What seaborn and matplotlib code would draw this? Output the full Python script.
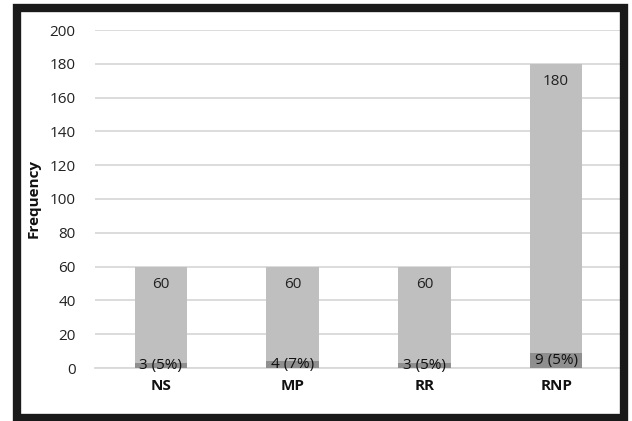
import matplotlib
matplotlib.use("Agg")
import matplotlib.pyplot as plt
import seaborn as sns
import pandas as pd
from matplotlib.patches import Rectangle

categories = ["NS", "MP", "RR", "RNP"]
totals = [60, 60, 60, 180]
subset = [3, 4, 3, 9]
subset_labels = ["3 (5%)", "4 (7%)", "3 (5%)", "9 (5%)"]
y_ticks = [0, 20, 40, 60, 80, 100, 120, 140, 160, 180, 200]

sns.set_theme(style="white")
plt.rcParams["font.family"] = ["Open Sans", "DejaVu Sans"]

df = pd.DataFrame({"group": categories, "total": totals, "subset": subset})

fig = plt.figure(figsize=(6.32, 4.21), dpi=100)
ax = fig.add_axes([95 / 632, 1 - 368 / 421, (622 - 95) / 632, (368 - 30) / 421])

sns.barplot(data=df, x="group", y="total", color="#bfbfbf", width=0.4,
            saturation=1, linewidth=0, edgecolor="none", ax=ax, zorder=2)
sns.barplot(data=df, x="group", y="subset", color="#8f8f8f", width=0.4,
            saturation=1, linewidth=0, edgecolor="none", ax=ax, zorder=3)

ax.set_ylim(0, 200)
ax.set_yticks(y_ticks)
ax.set_yticklabels([str(t) for t in y_ticks], fontsize=11, color="#222222")
ax.set_xlabel("")
ax.set_ylabel("Frequency", fontsize=11, fontweight="bold", color="#111111")
ax.yaxis.set_label_coords(-(95 - 41) / 527, 0.5)
ax.tick_params(axis="y", length=0, pad=14)
ax.tick_params(axis="x", length=0, pad=8)
for lbl in ax.get_xticklabels():
    lbl.set_fontweight("bold")
    lbl.set_fontsize(11)
    lbl.set_color("#111111")

ax.yaxis.grid(True, color="#d9d9d9", linewidth=1.3, zorder=0)
ax.set_axisbelow(True)
for side in ["left", "right", "top"]:
    ax.spines[side].set_visible(False)
ax.spines["bottom"].set_color("#d9d9d9")
ax.spines["bottom"].set_linewidth(1.3)

# value labels: totals near the top of each bar, subset counts centred in the dark segment
for i, (t, s, lab) in enumerate(zip(totals, subset, subset_labels)):
    ax.annotate(str(t), (i, t), xytext=(0, -13), textcoords="offset points",
                ha="center", va="center", fontsize=11, color="#222222", zorder=5)
    ax.text(i, s / 2, lab, ha="center", va="center", fontsize=11,
            color="#111111", zorder=5)

# heavy black frame around the figure
fig.patches.append(Rectangle((17 / 632, 1 - 418 / 421), (624 - 17) / 632, (418 - 8) / 421,
                             transform=fig.transFigure, fill=False,
                             edgecolor="#1a1a1a", linewidth=6))

fig.savefig("out.png", dpi=100)
